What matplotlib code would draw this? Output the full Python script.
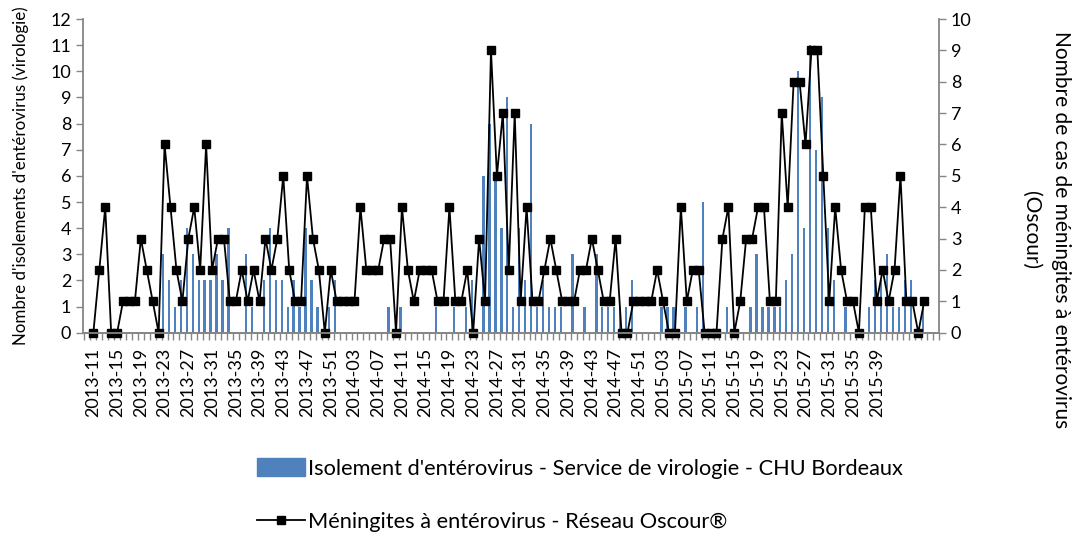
import numpy as np
import matplotlib.pyplot as plt
from matplotlib.lines import Line2D
from matplotlib.patches import Patch

plt.rcParams['font.family'] = ['Lato', 'DejaVu Sans']

# one category per week, from 2013-11 to 2015-47; a label every 4 weeks
tick_labels = ['2013-11', '2013-15', '2013-19', '2013-23', '2013-27', '2013-31',
               '2013-35', '2013-39', '2013-43', '2013-47', '2013-51', '2014-03',
               '2014-07', '2014-11', '2014-15', '2014-19', '2014-23', '2014-27',
               '2014-31', '2014-35', '2014-39', '2014-43', '2014-47', '2014-51',
               '2015-03', '2015-07', '2015-11', '2015-15', '2015-19', '2015-23',
               '2015-27', '2015-31', '2015-35', '2015-39']

# isolements d'entérovirus (virologie, CHU Bordeaux) - axe gauche
isolements = [0, 0, 0, 0, 0, 0, 0, 0, 0, 0, 0, 0,
              3, 2, 1, 2, 4, 3, 2, 2, 2, 3, 2, 4,
              0, 0, 3, 1, 0, 2, 4, 2, 2, 1, 2, 1,
              4, 2, 1, 0, 1, 2, 0, 0, 0, 0, 0, 0,
              0, 0, 1, 0, 1, 0, 0, 0, 0, 0, 1, 0,
              0, 1, 0, 1, 2, 0, 6, 8, 6, 4, 9, 1,
              4, 2, 8, 1, 2, 1, 1, 1, 0, 3, 0, 1,
              0, 3, 1, 1, 1, 1, 1, 2, 0, 0, 0, 0,
              1, 1, 1, 0, 1, 0, 1, 5, 0, 0, 0, 1,
              0, 0, 0, 1, 3, 1, 1, 1, 1, 2, 3, 10,
              4, 11, 7, 9, 4, 2, 0, 1, 0, 0, 0, 1,
              2, 2, 3, 1, 1, 2, 2, 0, 1]

# méningites à entérovirus (réseau Oscour) - axe droit
meningites = [0, 2, 4, 0, 0, 1, 1, 1, 3, 2, 1, 0,
              6, 4, 2, 1, 3, 4, 2, 6, 2, 3, 3, 1,
              1, 2, 1, 2, 1, 3, 2, 3, 5, 2, 1, 1,
              5, 3, 2, 0, 2, 1, 1, 1, 1, 4, 2, 2,
              2, 3, 3, 0, 4, 2, 1, 2, 2, 2, 1, 1,
              4, 1, 1, 2, 0, 3, 1, 9, 5, 7, 2, 7,
              1, 4, 1, 1, 2, 3, 2, 1, 1, 1, 2, 2,
              3, 2, 1, 1, 3, 0, 0, 1, 1, 1, 1, 2,
              1, 0, 0, 4, 1, 2, 2, 0, 0, 0, 3, 4,
              0, 1, 3, 3, 4, 4, 1, 1, 7, 4, 8, 8,
              6, 9, 9, 5, 1, 4, 2, 1, 1, 0, 4, 4,
              1, 2, 1, 2, 5, 1, 1, 0, 1]

bar_color = '#4F81BD'
axis_grey = '#868686'
x = np.arange(len(meningites))

fig = plt.figure(figsize=(10.77, 5.37), dpi=100)
ax = fig.add_axes([0.0771, 0.3804, 0.7948, 0.5842])
ax.bar(x - 0.25, isolements, width=0.4, color=bar_color, linewidth=0)
ax.set_ylim(0, 12)
ax.set_yticks(range(13))
ax.set_xlim(-1.74, 142.5)
ax.set_xticks(x[::4][:len(tick_labels)])
ax.set_xticklabels(tick_labels, rotation=90)
ax.set_xticks(np.arange(-1.5, 143, 1), minor=True)
ax.tick_params(axis='x', which='major', length=0, pad=11, labelsize=13)
ax.tick_params(axis='x', which='minor', length=5, width=1, color=axis_grey)
ax.tick_params(axis='y', length=5, width=1, color=axis_grey, labelsize=13)

ax2 = ax.twinx()
ax2.plot(x, meningites, color='black', lw=1.3, marker='s', ms=5.5,
         mfc='black', mec='black', clip_on=False)
ax2.set_ylim(0, 10)
ax2.set_yticks(range(11))
ax2.tick_params(axis='y', length=5, width=1, color=axis_grey, labelsize=13)

for a in (ax, ax2):
    a.spines['top'].set_visible(False)
    for s in ('left', 'right', 'bottom'):
        a.spines[s].set_color(axis_grey)
        a.spines[s].set_linewidth(1.3)
ax.spines['right'].set_visible(False)
ax2.spines['left'].set_visible(False)

fig.text(21 / 1077, 1 - 176 / 537, "Nombre d'isolements d'entérovirus (virologie)",
         rotation=90, ha='center', va='center', fontsize=12.2)
fig.text(1046 / 1077, 1 - 230 / 537,
         "Nombre de cas de méningites à entérovirus\n(Oscour)",
         rotation=-90, ha='center', va='center', fontsize=15,
         multialignment='center', linespacing=1.6)

handles = [Patch(color=bar_color,
                 label="Isolement d'entérovirus - Service de virologie - CHU Bordeaux"),
           Line2D([], [], color='black', lw=1.3, marker='s', ms=5.5,
                  label="Méningites à entérovirus - Réseau Oscour®")]
fig.legend(handles=handles, loc='upper left', bbox_to_anchor=(257 / 1077, 1 - 458 / 537),
           frameon=False, fontsize=15.7, handlelength=2.2, handleheight=0.9,
           handletextpad=0.15, labelspacing=1.5, borderpad=0, borderaxespad=0)

fig.savefig('out.png', dpi=100)
